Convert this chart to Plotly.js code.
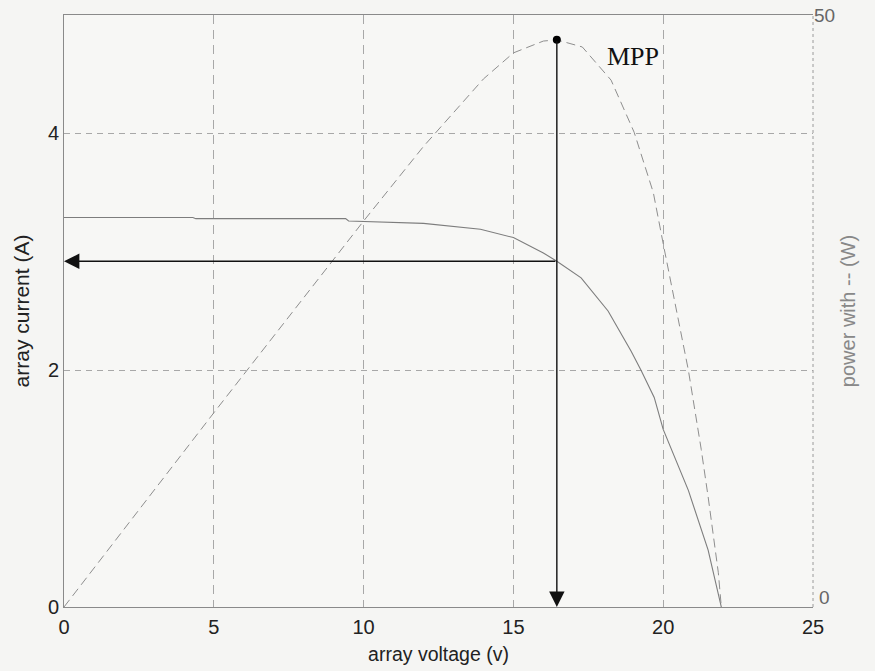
<!DOCTYPE html>
<html>
<head>
<meta charset="utf-8">
<script src="https://cdn.plot.ly/plotly-3.0.1.min.js"></script>
<style>html,body{margin:0;padding:0;background:#f5f5f3;}</style>
</head>
<body>
<div id="chart" style="width:875px;height:671px;"></div>
<script>
// I-V curve (array current, left axis)
const ivVoltage = [0, 4.3, 4.4, 9.4, 9.5, 12, 13.9, 15, 16, 16.45, 17.26, 18.16, 18.93, 19.26, 19.7, 20, 20.84, 21.5, 21.94];
const ivCurrent = [3.29, 3.29, 3.28, 3.28, 3.26, 3.24, 3.19, 3.12, 2.99, 2.92, 2.78, 2.50, 2.16, 2.0, 1.77, 1.50, 0.985, 0.48, 0];

// P-V curve (power, right axis)
const pvVoltage = [0, 5, 10, 12, 14, 15, 16, 16.45, 17.3, 18.26, 19.03, 19.67, 20.03, 20.84, 21.27, 21.5, 21.84, 21.94];
const pvPower = [0, 16.4, 32.6, 38.9, 44.6, 46.8, 47.8, 47.9, 47.3, 44.5, 40.1, 35, 30.3, 20.0, 13.3, 9.3, 2.9, 0];

// Maximum power point
const mppVoltage = 16.45;
const mppCurrent = 2.92;
const mppPower = 47.9;
const mppLabel = "MPP";

const xTicks = [0, 5, 10, 15, 20, 25];
const yTicks = [0, 2, 4];
const y2Ticks = [0, 50];

const traces = [
  {x: ivVoltage, y: ivCurrent, type: 'scatter', mode: 'lines', line: {color: '#7d7d7d', width: 1.1}, yaxis: 'y', hoverinfo: 'skip'},
  {x: pvVoltage, y: pvPower, type: 'scatter', mode: 'lines', line: {color: '#8e8e8e', width: 1, dash: '9px,5px'}, yaxis: 'y2', hoverinfo: 'skip'},
  {x: [mppVoltage], y: [mppPower], type: 'scatter', mode: 'markers', marker: {color: '#000', size: 8}, yaxis: 'y2', hoverinfo: 'skip'}
];

const font = {family: 'Liberation Sans, Arial, sans-serif', size: 19, color: '#222'};

const layout = {
  width: 875, height: 671,
  margin: {l: 64, r: 62, t: 15, b: 64},
  paper_bgcolor: '#f5f5f3',
  plot_bgcolor: '#f7f7f5',
  showlegend: false,
  font: font,
  xaxis: {
    range: [0, 25], tickvals: xTicks, ticktext: xTicks.map(String),
    showgrid: true, gridcolor: '#a8a8a8', griddash: '9px,6px', gridwidth: 1,
    showline: true, linecolor: '#8a8a8a', linewidth: 1, mirror: true,
    zeroline: false, ticks: '', tickfont: {size: 20, color: '#222'},
    ticklabelstandoff: 2,
    title: {text: 'array voltage (v)', font: {size: 19.5, color: '#222'}, standoff: 10}
  },
  yaxis: {
    range: [0, 5], tickvals: yTicks, ticktext: yTicks.map(String),
    showgrid: true, gridcolor: '#a8a8a8', griddash: '6px,5px', gridwidth: 1,
    showline: true, linecolor: '#8a8a8a', linewidth: 1,
    zeroline: false, ticks: '', tickfont: {size: 20, color: '#222'},
    title: {text: 'array current (A)', font: {size: 21, color: '#222'}, standoff: 12}
  },
  yaxis2: {
    range: [0, 50], tickvals: [y2Ticks[1]], ticktext: [String(y2Ticks[1])],
    overlaying: 'y', side: 'right', showgrid: false, zeroline: false,
    showline: false, ticks: '', tickfont: {size: 19, color: '#666'},
    title: {text: 'power with -- (W)', font: {size: 20, color: '#888'}, standoff: 6}
  },
  shapes: [
    {type: 'line', xref: 'paper', yref: 'paper', x0: 1, x1: 1, y0: 0, y1: 1, line: {color: '#9a9a9a', width: 1, dash: 'dot'}}
  ],
  annotations: [
    {x: 0, y: mppCurrent, xref: 'x', yref: 'y', ax: mppVoltage, ay: mppCurrent, axref: 'x', ayref: 'y',
     showarrow: true, arrowhead: 2, arrowsize: 2.2, arrowwidth: 1.4, arrowcolor: '#111', text: ''},
    {x: mppVoltage, y: 0, xref: 'x', yref: 'y2', ax: mppVoltage, ay: mppPower, axref: 'x', ayref: 'y2',
     showarrow: true, arrowhead: 2, arrowsize: 2.2, arrowwidth: 1.4, arrowcolor: '#111', text: ''},
    {x: 18.99, y: 4.65, xref: 'x', yref: 'y', text: mppLabel, showarrow: false,
     font: {family: 'Liberation Serif, Times New Roman, serif', size: 26, color: '#111'}},
    // right-axis "0" tick label, sitting slightly above the axis as in the reference
    {x: 1, y: y2Ticks[0], xref: 'paper', yref: 'y2', text: String(y2Ticks[0]), showarrow: false,
     xanchor: 'left', yanchor: 'bottom', xshift: 4, yshift: -3,
     font: {family: 'Liberation Sans, Arial, sans-serif', size: 19, color: '#666'}}
  ]
};

Plotly.newPlot('chart', traces, layout, {displayModeBar: false, staticPlot: true});
</script>
</body>
</html>
